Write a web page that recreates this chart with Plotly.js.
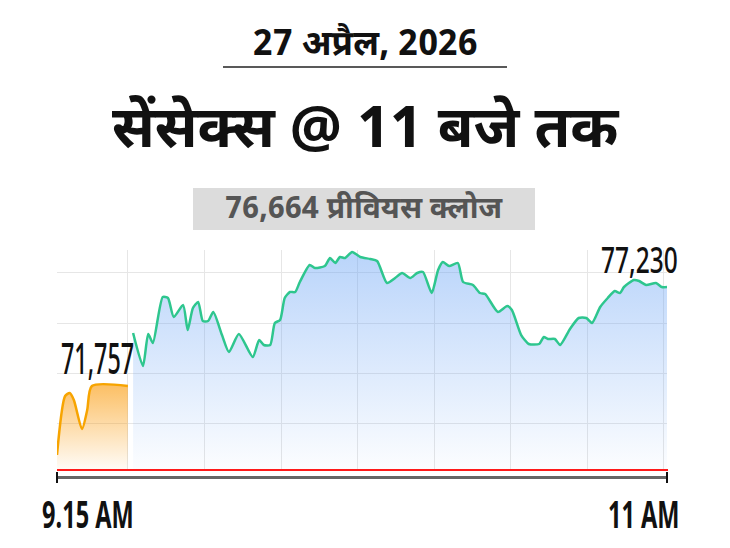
<!DOCTYPE html>
<html>
<head>
<meta charset="utf-8">
<script src="https://cdn.plot.ly/plotly-3.0.1.min.js"></script>
<style>
  html, body { margin: 0; padding: 0; background: #ffffff; }
  #chart { width: 730px; height: 548px; }
</style>
</head>
<body>
<div id="chart"></div>
<script>
// ---- data (minutes after 9:15 AM, Sensex value) ----
const preMinutes = [0, 1.4, 2.2, 2.9, 4.3, 5.2, 6.0, 12.2];
const preValues  = [67943, 71204, 71370, 70983, 69380, 70430, 71757, 71757];

const liveMinutes = [13.1, 14.8, 15.7, 16.5, 18.2, 19.1, 20.1, 21.7, 22.5, 23.4,
  24.3, 25.1, 26.0, 26.9, 28.4, 29.6, 31.3, 33.7, 34.8, 35.6,
  36.7, 37.5, 38.4, 39.2, 40.1, 41.0, 41.8, 43.5, 44.4, 46.1,
  47.0, 47.9, 48.7, 49.6, 50.8, 52.2, 53.9, 55.1, 56.8, 58.2,
  59.4, 60.8, 62.0, 63.0, 64.5, 65.6, 66.4, 67.5, 69.0, 69.9,
  71.6, 72.8, 73.7, 75.9, 77.5, 78.3, 79.9, 81.2, 83.0, 83.8,
  84.5, 85.7, 86.6, 88.3, 89.8, 91.1, 92.1, 93.5, 94.8, 96.0,
  96.9, 97.6, 99.3, 100.2, 101.4, 103.1, 104.1, 105.0];
const liveValues = [74687, 72863, 74632, 74134, 76677, 76622, 75571, 76235, 74853, 76069,
  76401, 75350, 75350, 75848, 74576, 73637, 74632, 73360, 74300, 74023,
  74023, 75240, 75405, 76622, 76954, 76954, 77506, 78446, 78280, 78391,
  78833, 78557, 78888, 78833, 79165, 78888, 78778, 78667, 77451, 77727,
  78004, 77727, 78004, 78059, 76898, 78170, 78612, 78391, 78557, 77506,
  77340, 76898, 76843, 75848, 76180, 75958, 74576, 74079, 74079, 74466,
  74355, 74355, 74023, 74908, 75516, 75516, 75240, 76124, 76622, 77009,
  76898, 77230, 77617, 77562, 77340, 77451, 77230, 77230];

const openLabel  = "71,757";
const closeLabel = "77,230";
const prevClose  = "76,664 प्रीवियस क्लोज";
const dateText   = "27 अप्रैल, 2026";
const titleText  = "सेंसेक्स @ 11 बजे तक";
const xStartLabel = "9.15 AM";
const xEndLabel   = "11 AM";

// ---- layout helpers (pixel -> paper) ----
const PL = 57, PR = 667, PT = 250, PB = 470;
const px = p => (p - PL) / (PR - PL);
const py = p => (PB - p) / (PB - PT);

const yMin = 67114, yMax = 79275;
const hindi = "'Noto Sans Devanagari', 'Noto Sans', sans-serif";
const narrow = "'Noto Sans', 'DejaVu Sans', sans-serif";

const traces = [
  {
    x: preMinutes, y: preValues, type: 'scatter', mode: 'lines',
    line: {color: '#f7a400', width: 2.5, shape: 'spline', smoothing: 0.7},
    fill: 'tozeroy',
    fillgradient: {type: 'vertical', start: yMin, stop: 71757,
      colorscale: [[0, 'rgba(250,150,0,0.03)'], [1, 'rgba(250,150,0,0.6)']]},
    hoverinfo: 'skip', showlegend: false
  },
  {
    x: liveMinutes, y: liveValues, type: 'scatter', mode: 'lines',
    line: {color: '#2ec68e', width: 2.5, shape: 'spline', smoothing: 0.6},
    fill: 'tozeroy',
    fillgradient: {type: 'vertical', start: yMin, stop: 79165,
      colorscale: [[0, 'rgba(100,160,245,0.02)'], [1, 'rgba(100,160,245,0.45)']]},
    hoverinfo: 'skip', showlegend: false
  }
];

const layout = {
  width: 730, height: 548,
  margin: {l: PL, r: 730 - PR, t: PT, b: 548 - PB, pad: 0},
  paper_bgcolor: '#ffffff', plot_bgcolor: '#ffffff',
  showlegend: false,
  xaxis: {
    range: [0, 105], showticklabels: false, ticks: '',
    showgrid: true, gridcolor: '#e6e6e6', gridwidth: 1,
    tick0: 12.22, dtick: 13.17, zeroline: false, showline: false, fixedrange: true
  },
  yaxis: {
    range: [yMin, yMax], showticklabels: false, ticks: '',
    showgrid: true, gridcolor: '#e6e6e6', gridwidth: 1,
    tick0: 69712, dtick: 2764, zeroline: false, showline: false, fixedrange: true
  },
  shapes: [
    {type: 'line', xref: 'paper', yref: 'paper', x0: 0, x1: px(668), y0: 0, y1: 0,
     line: {color: '#ff1a1a', width: 2}},
    {type: 'line', xref: 'paper', yref: 'paper', x0: 0, x1: 1, y0: py(477.5), y1: py(477.5),
     line: {color: '#666666', width: 3}},
    {type: 'line', xref: 'paper', yref: 'paper', x0: 0, x1: 0, y0: py(472), y1: py(483),
     line: {color: '#111111', width: 2}},
    {type: 'line', xref: 'paper', yref: 'paper', x0: 1, x1: 1, y0: py(472), y1: py(483),
     line: {color: '#111111', width: 2}},
    {type: 'line', xref: 'paper', yref: 'paper', x0: px(223), x1: px(507), y0: py(67), y1: py(67),
     line: {color: '#222222', width: 1.5}},
    {type: 'rect', xref: 'paper', yref: 'paper', x0: px(193), x1: px(535), y0: py(230), y1: py(188),
     fillcolor: '#dcdcdc', line: {width: 0}, layer: 'below'}
  ],
  annotations: [
    {text: dateText, xref: 'paper', yref: 'paper', x: px(365), y: py(45),
     xanchor: 'center', yanchor: 'middle', showarrow: false,
     font: {family: hindi, size: 35, color: '#111111', weight: 700}},
    {text: titleText, xref: 'paper', yref: 'paper', x: px(366), y: py(133),
     xanchor: 'center', yanchor: 'middle', showarrow: false,
     font: {family: hindi, size: 58, color: '#111111', weight: 700}},
    {text: prevClose, xref: 'paper', yref: 'paper', x: px(364), y: py(210),
     xanchor: 'center', yanchor: 'middle', showarrow: false,
     font: {family: hindi, size: 30, color: '#555555', weight: 700}},
    {text: openLabel, xref: 'x', yref: 'y', x: 0, y: 71757,
     xanchor: 'left', yanchor: 'bottom', yshift: -3, xshift: 2, showarrow: false,
     font: {family: narrow, size: 44, color: '#111111', weight: 500}},
    {text: closeLabel, xref: 'x', yref: 'y', x: 105, y: 77230,
     xanchor: 'right', yanchor: 'bottom', yshift: 1, xshift: 13, showarrow: false,
     font: {family: narrow, size: 36, color: '#111111', weight: 500}},
    {text: xStartLabel, xref: 'paper', yref: 'paper', x: px(88), y: py(513),
     xanchor: 'center', yanchor: 'middle', showarrow: false,
     font: {family: narrow, size: 38, color: '#111111', weight: 700}},
    {text: xEndLabel, xref: 'paper', yref: 'paper', x: px(643), y: py(513),
     xanchor: 'center', yanchor: 'middle', showarrow: false,
     font: {family: narrow, size: 38, color: '#111111', weight: 700}}
  ]
};

// horizontally condense selected annotation texts (no condensed face is installed)
function condense(idx, s, anchor) {
  const t = document.querySelector('#chart .annotation[data-index="' + idx + '"] text.annotation-text');
  if (!t) return;
  const b = t.getBBox();
  const cx = anchor === 'left' ? b.x : anchor === 'right' ? b.x + b.width : b.x + b.width / 2;
  const prev = t.getAttribute('transform') || '';
  t.setAttribute('transform', prev + ' translate(' + cx + ',0) scale(' + s + ',1) translate(' + (-cx) + ',0)');
}

Plotly.newPlot('chart', traces, layout, {staticPlot: true, displayModeBar: false}).then(function () {
  condense(3, 0.53, 'left');
  condense(4, 0.68, 'right');
  condense(5, 0.62, 'center');
  condense(6, 0.62, 'center');
});
</script>
</body>
</html>
